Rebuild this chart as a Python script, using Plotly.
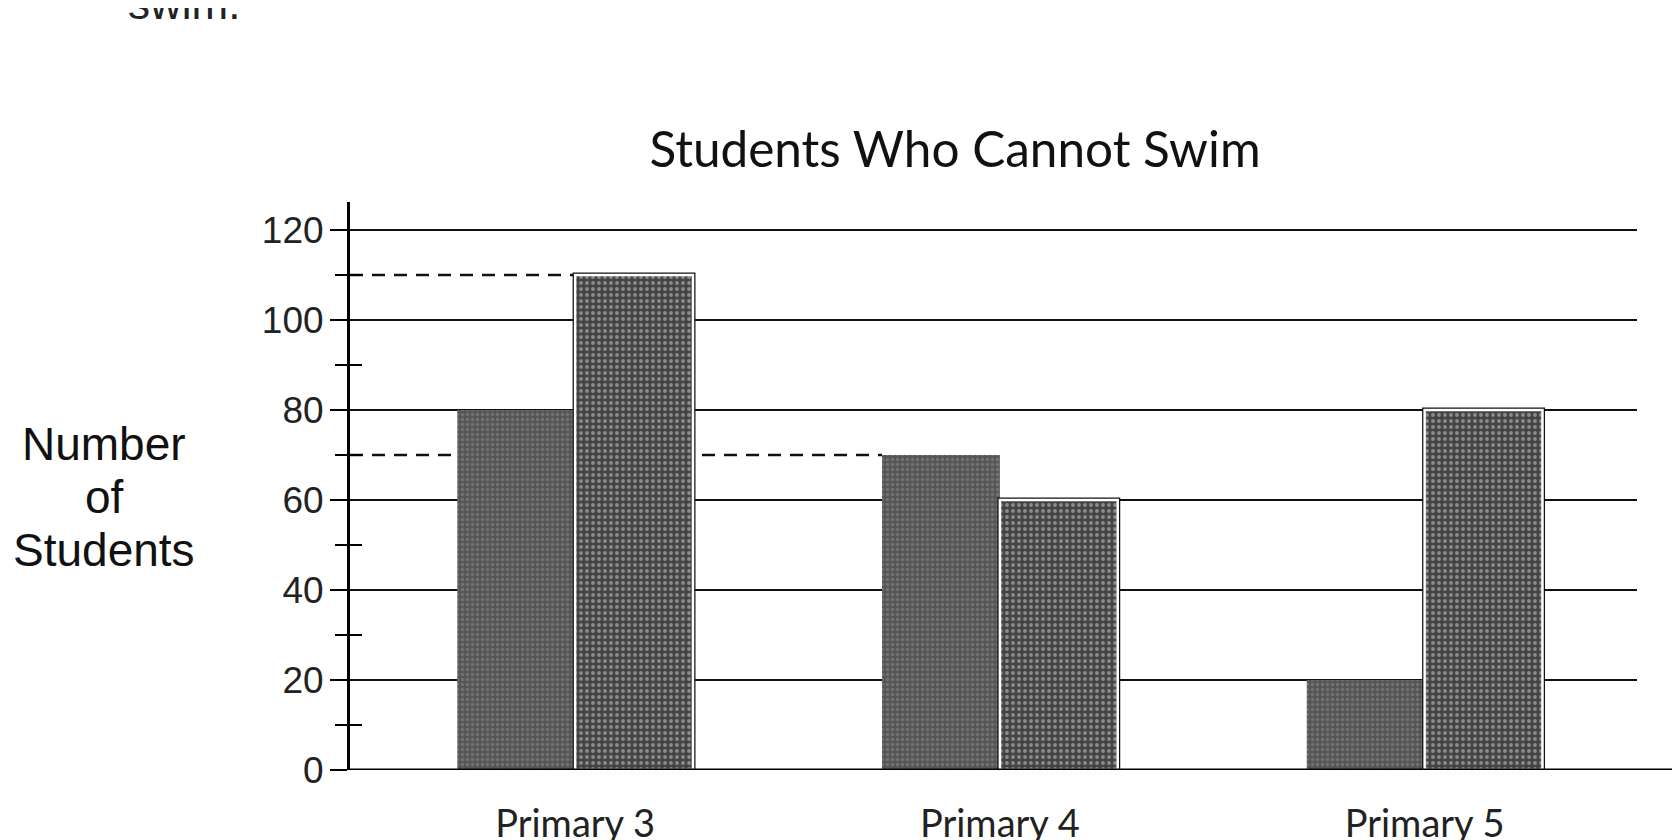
import plotly.graph_objects as go

categories = ["Primary 3", "Primary 4", "Primary 5"]
series_a = [80, 70, 20]      # dark bars
series_b = [110, 60, 80]     # light speckled bars
y_tick_vals = [0, 20, 40, 60, 80, 100, 120]
y_minor_vals = [10, 30, 50, 70, 90, 110]
title_text = "Students Who Cannot Swim"
y_label_lines = ["Number", "of", "Students"]
top_text = "swim."

W, H = 1680, 840
L, R, T, B = 342, 51, 194, 78
PW, PH = W - L - R, H - T - B

def px_x(px):
    return (px - L) / PW

def px_y(py):
    return (H - B - py) / PH

BARGAP = 0.445
XMIN, XMAX = -0.53, 2.5
YMAX = 126.2
bar_w = (1 - BARGAP) / 2  # width of one bar in category units

fig = go.Figure()

fig.add_trace(go.Bar(
    x=categories, y=series_a, offsetgroup="a",
    marker=dict(color="#5c5c5c", line=dict(width=0),
                pattern=dict(shape=".", bgcolor="#565656", fgcolor="#8e8e8e",
                             size=5, solidity=0.35)),
    showlegend=False, hoverinfo="skip"))
# black outer border for light bars
fig.add_trace(go.Bar(
    x=categories, y=series_b, offsetgroup="b",
    marker=dict(color="#111111", line=dict(color="#111111", width=5)),
    showlegend=False, hoverinfo="skip"))
fig.add_trace(go.Bar(
    x=categories, y=series_b, offsetgroup="b",
    marker=dict(color="#4a4a4a", line=dict(color="#ffffff", width=2.5),
                pattern=dict(shape=".", bgcolor="#444444", fgcolor="#d4d4d4",
                             size=6, solidity=0.32)),
    showlegend=False, hoverinfo="skip"))

# invisible trace to hold the overlaying axis for crossing minor ticks
fig.add_trace(go.Scatter(x=[categories[0]], y=[0], yaxis="y2", mode="markers",
                         marker=dict(opacity=0), showlegend=False, hoverinfo="skip"))

shapes = []
# dashed reference lines: to left edge of light P3 bar and dark P4 bar
shapes.append(dict(type="line", xref="x", yref="y", x0=XMIN, x1=0,
                   y0=series_b[0], y1=series_b[0], layer="between",
                   line=dict(color="#111111", width=2.5, dash="13px,9px")))
shapes.append(dict(type="line", xref="x", yref="y", x0=XMIN, x1=1 - bar_w,
                   y0=series_a[1], y1=series_a[1], layer="between",
                   line=dict(color="#111111", width=2.5, dash="13px,9px")))
# baseline extends a bit to the right of the gridlines
shapes.append(dict(type="line", xref="paper", yref="y", x0=0, x1=px_x(1666),
                   y0=0, y1=0, layer="above",
                   line=dict(color="#000000", width=3)))
fig.update_layout(shapes=shapes)

annotations = []
for i, line in enumerate(y_label_lines):
    annotations.append(dict(text=line, xref="paper", yref="paper",
                            x=px_x(96), y=px_y(436 + 53 * i),
                            xanchor="center", yanchor="middle", showarrow=False,
                            font=dict(family="Liberation Sans, Arial", size=46, color="#111111")))
annotations.append(dict(text=top_text, xref="paper", yref="paper",
                        x=px_x(118), y=px_y(22),
                        xanchor="left", yanchor="bottom", showarrow=False,
                        font=dict(family="Liberation Sans, Arial", size=44, color="#222222")))
fig.update_layout(annotations=annotations)

fig.update_layout(
    width=W, height=H,
    margin=dict(l=L, r=R, t=T, b=B, autoexpand=False),
    paper_bgcolor="white", plot_bgcolor="white",
    barmode="group", bargap=BARGAP, bargroupgap=0,
    title=dict(text=title_text, x=947 / W, xanchor="center",
               y=1 - 142 / H, yanchor="middle", xref="container",
               yref="container",
               font=dict(family="Lato", size=49.5, color="#111111")),
    xaxis=dict(type="category", range=[XMIN, XMAX], showgrid=False,
               showline=False, ticks="", zeroline=False,
               tickfont=dict(family="Lato", size=38, color="#222222"),
               ticklabelstandoff=28),
    yaxis=dict(range=[0, YMAX], tickvals=y_tick_vals, showgrid=True,
               gridcolor="#111111", gridwidth=2, zeroline=False,
               showline=True, linecolor="#000000", linewidth=3,
               ticks="outside", ticklen=17, tickwidth=2, tickcolor="#000000",
               tickfont=dict(family="Liberation Sans, Arial", size=37, color="#222222"),
               ticklabelstandoff=-1,
               minor=dict(tickvals=y_minor_vals, ticks="outside", ticklen=12,
                          tickwidth=2, tickcolor="#000000", showgrid=False)),
    yaxis2=dict(overlaying="y", side="left", range=[0, YMAX], anchor="x",
                tickvals=y_minor_vals, ticks="inside", ticklen=12, tickwidth=2,
                tickcolor="#000000", showticklabels=False, showgrid=False,
                zeroline=False, showline=False),
)

fig.write_html("out.html")
